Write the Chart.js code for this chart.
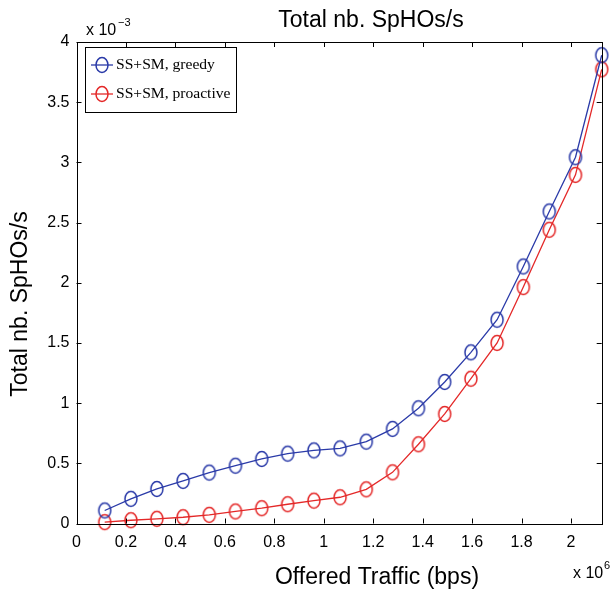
<!DOCTYPE html>
<html>
<head>
<meta charset="utf-8">
<script src="https://cdn.jsdelivr.net/npm/chart.js@4.4.0/dist/chart.umd.min.js"></script>
<style>
html,body{margin:0;padding:0;background:#fff;}
#wrap{width:610px;height:591px;position:relative;}
</style>
</head>
<body>
<div id="wrap"><canvas id="c" width="610" height="591"></canvas></div>
<script>
// Offered traffic (x 10^6 bps)
const offeredTraffic = [0.114, 0.220, 0.325, 0.431, 0.537, 0.643, 0.749, 0.854, 0.960, 1.066,
                        1.172, 1.278, 1.383, 1.489, 1.595, 1.701, 1.807, 1.912, 2.018, 2.124];
// Total nb. SpHOs/s (x 10^-3)
const greedy    = [0.108, 0.205, 0.287, 0.354, 0.423, 0.480, 0.536, 0.580, 0.607, 0.624,
                   0.680, 0.786, 0.957, 1.176, 1.422, 1.693, 2.135, 2.592, 3.043, 3.890];
const proactive = [0.011, 0.027, 0.039, 0.052, 0.072, 0.100, 0.127, 0.160, 0.190, 0.218,
                   0.284, 0.425, 0.658, 0.910, 1.203, 1.500, 1.964, 2.440, 2.896, 3.773];
const seriesLabels = ['SS+SM, greedy', 'SS+SM, proactive'];
const xTicks = [0, 0.2, 0.4, 0.6, 0.8, 1, 1.2, 1.4, 1.6, 1.8, 2];
const yTicks = [0, 0.5, 1, 1.5, 2, 2.5, 3, 3.5, 4];
const xMax = 2.124;

const BLUE = '#2a3aa8';
const RED = '#e42828';
const SANS = "'Liberation Sans', Arial, Helvetica, sans-serif";
const SERIF = "'Liberation Serif', 'Times New Roman', serif";

function ellipseMarker(color) {
  const cv = document.createElement('canvas');
  cv.width = 16; cv.height = 20;
  const g = cv.getContext('2d');
  g.strokeStyle = color; g.lineWidth = 1.5;
  g.beginPath(); g.ellipse(8, 10, 6, 7.5, 0, 0, Math.PI * 2); g.stroke();
  return cv;
}
const markers = [ellipseMarker(BLUE), ellipseMarker(RED)];

function toXY(ys) { return ys.map((v, i) => ({x: offeredTraffic[i], y: v})); }

const decor = {
  id: 'decor',
  afterDatasetsDraw(chart) {
    const ctx = chart.ctx;
    const a = chart.chartArea;
    const xs = chart.scales.x, ys = chart.scales.y;
    ctx.save();
    // box
    ctx.strokeStyle = '#000'; ctx.lineWidth = 1;
    ctx.strokeRect(Math.round(a.left) + 0.5, Math.round(a.top) + 0.5,
                   Math.round(a.right - a.left), Math.round(a.bottom - a.top));
    // inward ticks
    const tl = 5;
    ctx.beginPath();
    xTicks.forEach(v => {
      const px = Math.round(xs.getPixelForValue(v)) + 0.5;
      ctx.moveTo(px, a.bottom); ctx.lineTo(px, a.bottom - tl);
      ctx.moveTo(px, a.top); ctx.lineTo(px, a.top + tl);
    });
    yTicks.forEach(v => {
      const py = Math.round(ys.getPixelForValue(v)) + 0.5;
      ctx.moveTo(a.left, py); ctx.lineTo(a.left + tl, py);
      ctx.moveTo(a.right, py); ctx.lineTo(a.right - tl, py);
    });
    ctx.stroke();

    ctx.fillStyle = '#000';
    // title
    ctx.font = '23px ' + SANS;
    ctx.textAlign = 'center'; ctx.textBaseline = 'alphabetic';
    ctx.fillText('Total nb. SpHOs/s', 371, 27);
    // x title
    ctx.fillText('Offered Traffic (bps)', 377, 584);
    // y title
    ctx.save();
    ctx.translate(27, 304); ctx.rotate(-Math.PI / 2);
    ctx.fillText('Total nb. SpHOs/s', 0, 0);
    ctx.restore();
    // exponents
    ctx.textAlign = 'left';
    ctx.font = '16px ' + SANS;
    ctx.fillText('x 10', 86, 35);
    ctx.font = '11px ' + SANS;
    ctx.fillText('\u22123', 118, 26);
    ctx.font = '16px ' + SANS;
    ctx.fillText('x 10', 573, 578);
    ctx.font = '11px ' + SANS;
    ctx.fillText('6', 604, 569);

    // legend
    const lx = 85, ly = 47, lw = 151, lh = 65;
    ctx.fillStyle = '#fff';
    ctx.fillRect(lx, ly, lw, lh);
    ctx.strokeStyle = '#000'; ctx.lineWidth = 1;
    ctx.strokeRect(lx + 0.5, ly + 0.5, lw, lh);
    const rows = [65, 94];
    chart.data.datasets.forEach((ds, i) => {
      const y = rows[i];
      ctx.strokeStyle = ds.borderColor; ctx.lineWidth = 1.3;
      ctx.beginPath(); ctx.moveTo(91, y); ctx.lineTo(113, y); ctx.stroke();
      ctx.drawImage(markers[i], 102 - 8, y - 10);
      ctx.fillStyle = '#000';
      ctx.font = '15.6px ' + SERIF;
      ctx.textBaseline = 'middle';
      ctx.fillText(ds.label, 116, y);
    });
    ctx.restore();
  }
};

new Chart(document.getElementById('c'), {
  type: 'line',
  data: {
    datasets: [
      {label: seriesLabels[0], data: toXY(greedy), borderColor: BLUE, backgroundColor: BLUE,
       borderWidth: 1.3, pointStyle: markers[0], pointRadius: 7, tension: 0, clip: false},
      {label: seriesLabels[1], data: toXY(proactive), borderColor: RED, backgroundColor: RED,
       borderWidth: 1.3, pointStyle: markers[1], pointRadius: 7, tension: 0, clip: false}
    ]
  },
  options: {
    responsive: false,
    animation: false,
    devicePixelRatio: 1,
    layout: {padding: {top: 42, right: 8, left: 0, bottom: 0}},
    plugins: {legend: {display: false}, title: {display: false}, tooltip: {enabled: false}},
    elements: {point: {hoverRadius: 7}},
    scales: {
      x: {
        type: 'linear', min: 0, max: xMax,
        grid: {display: false, drawTicks: false},
        border: {display: false},
        afterBuildTicks: s => { s.ticks = xTicks.map(v => ({value: v})); },
        afterFit: s => { s.height = 67.5; },
        ticks: {font: {family: SANS, size: 16}, color: '#000', padding: 9, maxRotation: 0,
                callback: v => String(v)}
      },
      y: {
        type: 'linear', min: 0, max: 4,
        grid: {display: false, drawTicks: false},
        border: {display: false},
        afterBuildTicks: s => { s.ticks = yTicks.map(v => ({value: v})); },
        afterFit: s => { s.width = 76.5; },
        ticks: {font: {family: SANS, size: 16}, color: '#000', padding: 7,
                callback: v => String(v)}
      }
    }
  },
  plugins: [decor]
});
</script>
</body>
</html>
